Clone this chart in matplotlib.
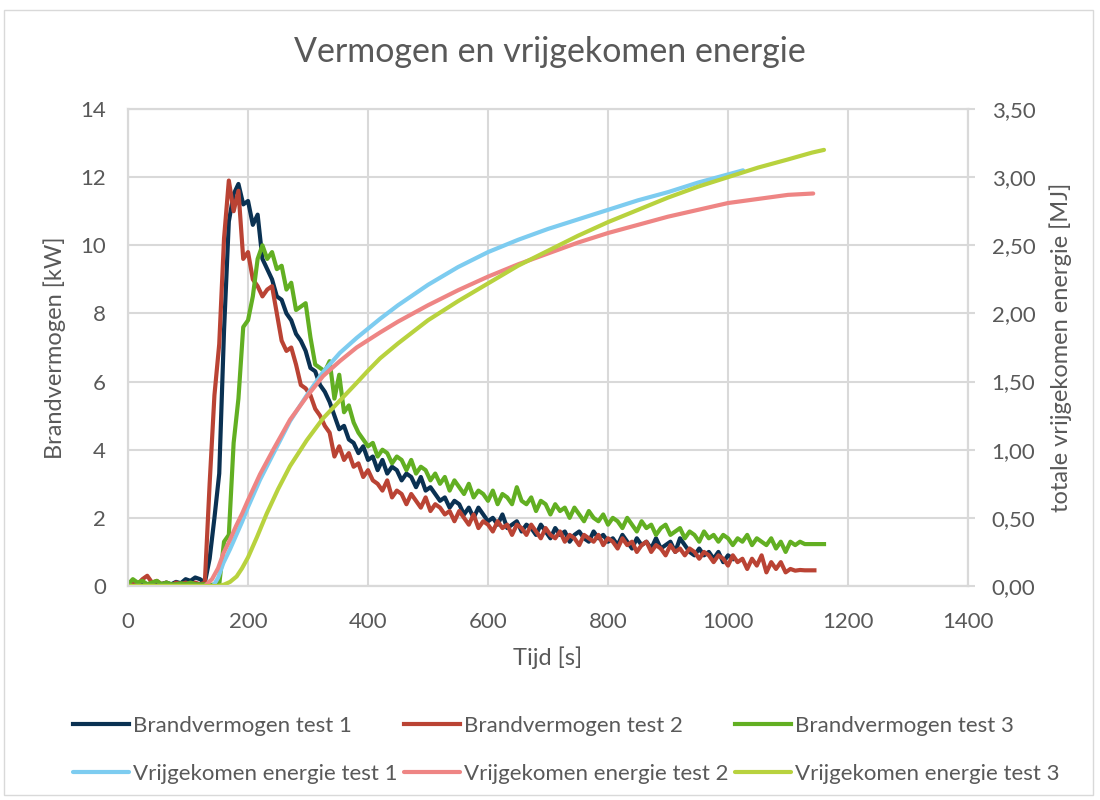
import numpy as np
import matplotlib.pyplot as plt
from matplotlib.patches import Rectangle
from matplotlib.ticker import FuncFormatter

plt.rcParams['font.family'] = ['Lato', 'DejaVu Sans']

STEP = 8  # logger interval [s]

# Brandvermogen [kW], one value per STEP seconds
power_1 = [0.05, 0.10, 0.05, 0.10, 0.05, 0.08, 0.02, 0.06, 0.10, 0.05, 0.12, 0.08, 0.20, 0.15, 0.25, 0.20,
           0.10, 0.80, 2.00, 3.30, 7.50, 10.7, 11.5, 11.8, 11.2, 11.3, 10.6, 10.9, 9.6, 9.3, 9.0, 8.5,
           8.4, 8.0, 7.8, 7.4, 7.2, 6.9, 6.4, 6.3, 5.9, 5.7, 5.4, 5.0, 4.6, 4.7, 4.3, 4.2,
           3.9, 4.1, 3.7, 3.8, 3.4, 3.7, 3.3, 3.5, 3.4, 3.1, 3.3, 3.2, 2.9, 3.2, 2.8, 2.9,
           2.7, 2.5, 2.6, 2.3, 2.5, 2.4, 2.1, 2.3, 2.0, 2.3, 2.1, 1.9, 2.0, 1.8, 2.1, 1.7,
           1.8, 1.9, 1.6, 1.8, 1.7, 1.5, 1.8, 1.6, 1.4, 1.7, 1.5, 1.6, 1.3, 1.5, 1.6, 1.4,
           1.3, 1.6, 1.4, 1.5, 1.3, 1.4, 1.2, 1.5, 1.3, 1.1, 1.4, 1.2, 1.3, 1.1, 1.4, 1.1,
           1.2, 1.3, 1.0, 1.4, 1.2, 1.0, 0.9, 1.1, 0.9, 1.0, 0.8, 1.0, 0.7, 0.9, 0.8]
power_2 = [0.00, 0.15, 0.05, 0.20, 0.30, 0.10, 0.15, 0.05, 0.10, 0.00, 0.10, 0.05, 0.10, 0.05, 0.10, 0.05,
           0.10, 3.0, 5.6, 7.1, 10.2, 11.9, 11.0, 11.6, 9.6, 9.8, 9.0, 8.8, 8.5, 8.7, 8.8, 8.0,
           7.2, 6.9, 7.0, 6.5, 5.9, 5.8, 5.6, 5.2, 5.0, 4.7, 4.5, 3.8, 4.1, 3.7, 3.9, 3.5,
           3.6, 3.2, 3.4, 3.1, 3.0, 2.8, 3.1, 2.6, 2.8, 2.7, 2.4, 2.7, 2.5, 2.3, 2.6, 2.2,
           2.4, 2.3, 2.1, 2.2, 1.9, 2.2, 2.0, 1.8, 2.1, 1.7, 1.9, 1.8, 1.6, 1.9, 1.7, 1.8,
           1.5, 1.8, 1.7, 1.5, 1.8, 1.6, 1.4, 1.7, 1.5, 1.4, 1.6, 1.3, 1.5, 1.4, 1.2, 1.5,
           1.4, 1.3, 1.5, 1.2, 1.4, 1.3, 1.1, 1.4, 1.2, 1.3, 1.0, 1.2, 1.3, 1.0, 1.2, 1.1,
           0.9, 1.2, 1.0, 1.1, 0.9, 1.1, 1.0, 0.8, 1.0, 0.9, 0.7, 0.9, 0.8, 0.6, 0.9, 0.7,
           0.8, 0.5, 0.8, 0.6, 0.9, 0.4, 0.7, 0.5, 0.7, 0.4, 0.5, 0.45, 0.47, 0.46, 0.46, 0.46]
power_3 = [0.05, 0.20, 0.10, 0.15, 0.05, 0.10, 0.15, 0.05, 0.10, 0.05, 0.05, 0.08, 0.05, 0.10, 0.05, 0.05,
           0.05, 0.02, 0.05, 0.05, 1.3, 1.5, 4.2, 5.5, 7.6, 7.8, 8.5, 9.6, 10.0, 9.6, 9.8, 9.3,
           9.4, 8.7, 8.9, 8.1, 8.2, 8.3, 7.3, 6.5, 6.4, 6.3, 6.6, 5.5, 6.2, 5.1, 5.3, 4.8,
           4.5, 4.3, 4.1, 4.2, 3.8, 4.0, 3.9, 3.6, 3.8, 3.7, 3.4, 3.7, 3.3, 3.5, 3.4, 3.1,
           3.3, 3.0, 3.2, 2.8, 3.1, 2.9, 2.7, 3.0, 2.6, 2.8, 2.7, 2.5, 2.8, 2.4, 2.7, 2.6,
           2.4, 2.9, 2.5, 2.4, 2.6, 2.2, 2.5, 2.4, 2.1, 2.4, 2.2, 2.3, 2.0, 2.3, 2.1, 1.9,
           2.2, 2.0, 1.9, 2.1, 1.8, 2.0, 1.9, 1.7, 2.0, 1.8, 1.6, 1.9, 1.7, 1.8, 1.5, 1.7,
           1.8, 1.5, 1.6, 1.7, 1.4, 1.6, 1.5, 1.3, 1.6, 1.4, 1.5, 1.3, 1.5, 1.4, 1.2, 1.4,
           1.3, 1.5, 1.2, 1.4, 1.3, 1.2, 1.4, 1.1, 1.3, 1.0, 1.3, 1.2, 1.3, 1.23, 1.23, 1.23,
           1.23, 1.23]

# Totale vrijgekomen energie [MJ]
energy_t1 = [0, 130, 142, 150, 159, 170, 180, 190, 200, 220, 242, 270, 298, 325, 353, 381, 420, 450,
             500, 550, 600, 650, 700, 750, 800, 850, 900, 950, 1000, 1025]
energy_1 = [0, 0, 0.0, 0.06, 0.17, 0.27, 0.37, 0.47, 0.58, 0.78, 0.97, 1.21, 1.40, 1.57, 1.71, 1.82, 1.96, 2.06,
            2.21, 2.34, 2.45, 2.54, 2.62, 2.69, 2.76, 2.83, 2.89, 2.96, 3.02, 3.05]
energy_t2 = [0, 128, 140, 150, 159, 170, 180, 190, 200, 220, 242, 270, 298, 325, 353, 381, 420, 450,
             500, 550, 600, 650, 700, 750, 800, 850, 900, 950, 1000, 1050, 1100, 1142]
energy_2 = [0, 0, 0.05, 0.13, 0.24, 0.34, 0.44, 0.53, 0.63, 0.82, 1.00, 1.22, 1.39, 1.54, 1.65, 1.75, 1.86, 1.94,
            2.06, 2.17, 2.27, 2.36, 2.44, 2.52, 2.59, 2.65, 2.71, 2.76, 2.81, 2.84, 2.87, 2.88]
energy_t3 = [0, 150, 160, 170, 181, 190, 200, 215, 231, 250, 270, 298, 325, 353, 381, 400, 420, 450,
             500, 550, 600, 650, 700, 750, 800, 850, 900, 950, 1000, 1050, 1100, 1140, 1160]
energy_3 = [0, 0, 0.01, 0.03, 0.07, 0.13, 0.21, 0.36, 0.53, 0.71, 0.88, 1.07, 1.23, 1.36, 1.49, 1.58, 1.67, 1.78,
            1.95, 2.09, 2.22, 2.35, 2.46, 2.57, 2.67, 2.76, 2.85, 2.93, 3.00, 3.07, 3.13, 3.18, 3.20]

power_labels = ['Brandvermogen test 1', 'Brandvermogen test 2', 'Brandvermogen test 3']
energy_labels = ['Vrijgekomen energie test 1', 'Vrijgekomen energie test 2', 'Vrijgekomen energie test 3']
power_colors = ['#0A3152', '#BA4334', '#62AF22']
energy_colors = ['#7DCCF0', '#EE8584', '#B8D23E']

grid_c = '#D9D9D9'
text_c = '#595959'

fig = plt.figure(figsize=(11, 8), dpi=100)
fig.patches.append(Rectangle((0.004, 0.006), 0.99, 0.981, transform=fig.transFigure,
                             fill=False, edgecolor=grid_c, linewidth=1))

ax = fig.add_axes([0.1164, 0.2675, 0.7636, 0.59625])
ax2 = ax.twinx()

power_lines = []
for vals, col, lab in zip([power_1, power_2, power_3], power_colors, power_labels):
    t = np.arange(len(vals)) * STEP
    ln, = ax.plot(t, vals, color=col, lw=3, label=lab, solid_joinstyle='round')
    power_lines.append(ln)

energy_lines = []
for t, vals, col, lab in zip([energy_t1, energy_t2, energy_t3], [energy_1, energy_2, energy_3],
                             energy_colors, energy_labels):
    ln, = ax2.plot(t, vals, color=col, lw=3, label=lab, solid_capstyle='round')
    energy_lines.append(ln)

ax.set_xlim(0, 1400)
ax.set_ylim(0, 14)
ax.set_xticks(range(0, 1401, 200))
ax.set_yticks(range(0, 15, 2))
ax2.set_ylim(0, 3.5)
ax2.set_yticks(np.arange(0, 3.51, 0.5))
ax2.yaxis.set_major_formatter(FuncFormatter(lambda v, p: f'{v:.2f}'.replace('.', ',')))

ax.grid(True, color=grid_c, lw=1.5)
ax.set_axisbelow(True)
for a in (ax, ax2):
    for s in a.spines.values():
        s.set_color(grid_c)
        s.set_linewidth(1.5)
ax.spines['bottom'].set_color('#BFBFBF')

ax.tick_params(axis='x', length=0, pad=19, labelsize=16, labelcolor=text_c)
ax.tick_params(axis='y', length=0, pad=16, labelsize=16, labelcolor=text_c)
ax2.tick_params(axis='y', length=5, width=1.5, color=grid_c, pad=12, labelsize=16, labelcolor=text_c)

ax.set_xlabel('Tijd [s]', fontsize=17, color=text_c, labelpad=10)
ax.set_ylabel('Brandvermogen [kW]', fontsize=17, color=text_c, labelpad=10)
ax2.set_ylabel('totale vrijgekomen energie [MJ]', fontsize=17, color=text_c, labelpad=10)

fig.text(0.5, 0.935, 'Vermogen en vrijgekomen energie', ha='center', va='center',
         fontsize=24.5, color=text_c)

# legend: power series on the first row, energy series on the second
handles, labels = [], []
for p, e in zip(power_lines, energy_lines):
    handles += [p, e]
    labels += [p.get_label(), e.get_label()]
leg = fig.legend(handles, labels, ncol=3, loc='center', bbox_to_anchor=(0.515, 0.0625),
                 frameon=False, fontsize=16, handlelength=2.5, handletextpad=0.2,
                 columnspacing=0.3, labelspacing=1.25)
for txt in leg.get_texts():
    txt.set_color(text_c)

fig.savefig('out.png', dpi=100)
